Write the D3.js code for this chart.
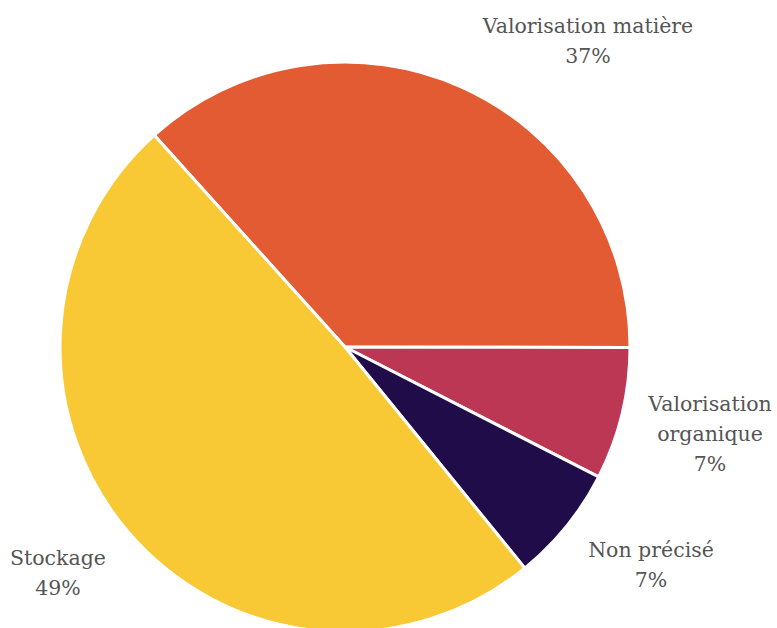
<!DOCTYPE html>
<html><head><meta charset="utf-8">
<script src="https://cdn.jsdelivr.net/npm/d3@7"></script>
<style>body{margin:0;background:#fff}svg{display:block}</style>
</head><body>
<svg id="c" width="777" height="628"></svg>
<script>
const categories = ["Valorisation matière", "Valorisation organique", "Non précisé", "Stockage"];
const values = [36.7, 7.5, 6.6, 49.2];
const percentLabels = ["37%", "7%", "7%", "49%"];
const colors = ["#E35B32", "#BB3754", "#200C48", "#F8C935"];

// layout
const W = 777, H = 628, cx = 345, cy = 347, R = 285;
const startDeg = -42;
const labelPos = [
  {x: 588, y: 33, lines: ["Valorisation matière"]},
  {x: 710, y: 411, lines: ["Valorisation", "organique"]},
  {x: 651, y: 557, lines: ["Non précisé"]},
  {x: 58, y: 565, lines: ["Stockage"]}
];

const svg = d3.select("#c");
const g = svg.append("g").attr("transform", `translate(${cx},${cy})`);
const pie = d3.pie().sort(null).value(d => d)
  .startAngle(startDeg * Math.PI / 180).endAngle((startDeg + 360) * Math.PI / 180);
const arc = d3.arc().innerRadius(0).outerRadius(R);
const arcs = pie(values);
g.selectAll("path").data(arcs).join("path")
  .attr("d", arc).attr("fill", (d, i) => colors[i])
  .attr("stroke", "#fff").attr("stroke-width", 3).attr("stroke-linejoin", "round");

const lab = svg.append("g").attr("font-family", "'DejaVu Serif', serif")
  .attr("font-size", 20.5).attr("fill", "#555").attr("text-anchor", "middle");
labelPos.forEach((p, i) => {
  const t = lab.append("text").attr("x", p.x).attr("y", p.y);
  const lines = p.lines.concat([percentLabels[i]]);
  lines.forEach((l, j) => t.append("tspan").attr("x", p.x).attr("dy", j === 0 ? 0 : 30).text(l));
});
</script>
</body></html>
